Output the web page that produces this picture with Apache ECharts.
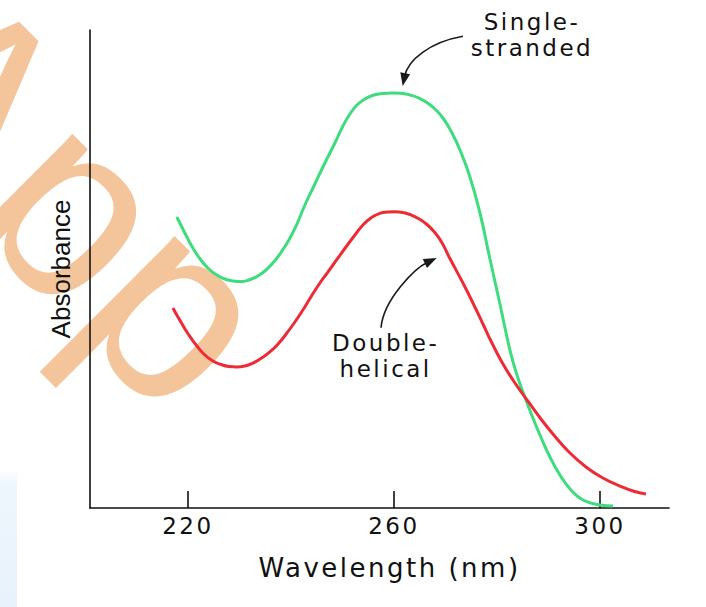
<!DOCTYPE html>
<html><head><meta charset="utf-8">
<script src="https://cdn.jsdelivr.net/npm/echarts@6/dist/echarts.min.js"></script>
<style>
html,body{margin:0;padding:0;background:#fff}
#chart{width:706px;height:607px}
#chart text{letter-spacing:2.5px}
#chart text[style*="Liberation"]{letter-spacing:0}
</style>
</head><body><div id="chart"></div>
<script>
// ---- data ----
const wavelengthTicks = [220, 260, 300];
const singleStranded = [[217.86,60.88],[219.42,57.53],[220.97,54.39],[222.52,51.88],[224.08,50.00],[225.63,48.74],[227.18,47.91],[228.74,47.49],[230.29,47.38],[231.84,47.70],[233.40,48.43],[234.95,49.58],[236.50,51.26],[238.06,53.45],[239.61,56.07],[241.17,59.41],[242.72,63.39],[244.66,67.78],[246.60,72.18],[248.54,76.36],[250.10,79.92],[251.46,82.43],[252.82,84.31],[254.37,85.56],[256.12,86.40],[257.86,86.72],[259.61,86.82],[261.36,86.76],[263.11,86.40],[264.85,85.77],[266.41,84.83],[267.96,83.47],[269.51,81.59],[271.07,78.87],[272.82,74.90],[274.76,69.25],[276.70,61.72],[278.64,52.09],[280.58,42.68],[282.52,33.05],[284.08,27.20],[285.63,22.59],[286.99,18.83],[288.35,15.27],[290.29,10.67],[292.23,6.90],[294.37,3.77],[296.70,1.67],[300.00,0.63],[302.52,0.42]];
const doubleHelical = [[217.09,41.84],[218.64,38.91],[220.19,36.19],[221.75,33.89],[223.30,32.01],[224.85,30.75],[226.41,30.02],[227.96,29.60],[229.51,29.50],[231.07,29.71],[232.62,30.33],[234.17,31.28],[235.92,32.64],[237.67,34.52],[239.22,36.61],[240.78,38.91],[242.33,41.42],[243.88,44.14],[245.63,47.07],[247.18,49.37],[248.93,51.99],[250.68,54.60],[252.43,57.11],[253.98,59.21],[255.53,60.67],[257.28,61.65],[258.83,61.90],[260.19,61.97],[261.75,61.82],[263.30,61.34],[264.85,60.50],[266.41,59.31],[267.77,57.85],[269.13,55.86],[270.87,52.20],[273.40,47.07],[275.34,42.89],[277.28,38.49],[279.22,34.10],[281.17,30.13],[283.11,26.78],[284.85,24.06],[286.41,21.76],[288.54,18.62],[290.87,15.48],[293.98,11.72],[297.28,8.58],[300.58,6.28],[303.88,4.60],[306.41,3.56],[308.93,2.93]];
const singleLabel = 'Single-\nstranded';
const doubleLabel = 'Double-\nhelical';
const singleLabelAt = [286.8, 99.0];
const doubleLabelAt = [258.4, 31.8];
// arrow paths (data coords): start, control1, control2, tip
const singleArrow = [[273.4,98.7],[267.0,97.5],[262.7,93.7],[261.7,88.3]];
const doubleArrow = [[257.5,37.7],[257.9,43.5],[264.1,50.2],[268.3,52.3]];
const xName = 'Wavelength (nm)';
const yName = 'Absorbance';
const watermarkText = 'App';

const textFont = 'DejaVu Sans';
const chart = echarts.init(document.getElementById('chart'), null, {renderer:'svg'});
chart.setOption({
  animation:false,
  backgroundColor:'#fff',
  grid:{left:90,right:37,top:30,bottom:99,containLabel:false},
  xAxis:{type:'value',min:201,max:313.4,
    name:xName,nameLocation:'middle',nameGap:47,
    nameTextStyle:{fontFamily:textFont,fontSize:26,color:'#111',padding:[0,0,0,20]},
    axisLine:{show:true,lineStyle:{color:'#111',width:1.6}},
    axisTick:{show:true,inside:true,length:17,customValues:wavelengthTicks,lineStyle:{color:'#111',width:1.6}},
    axisLabel:{show:true,margin:6,customValues:wavelengthTicks,fontFamily:textFont,fontSize:23,color:'#111'},
    splitLine:{show:false}},
  yAxis:{type:'value',min:0,max:100,
    name:yName,nameLocation:'middle',nameRotate:90,nameGap:16,
    nameTextStyle:{fontFamily:'Liberation Sans',fontSize:26,color:'#111'},
    axisLine:{show:true,lineStyle:{color:'#111',width:1.6}},
    axisTick:{show:false},axisLabel:{show:false},splitLine:{show:false}},
  series:[
    {type:'line',name:'Single-stranded',data:singleStranded,smooth:0.5,showSymbol:false,z:3,
      lineStyle:{color:'#3ddc7c',width:3}},
    {type:'line',name:'Double-helical',data:doubleHelical,smooth:0.5,showSymbol:false,z:4,
      lineStyle:{color:'#ee2b35',width:3}}
  ]
});

function px(p){ return chart.convertToPixel({gridIndex:0}, p); }
function arrowGraphics(pts){
  const [a,b,c,d] = pts.map(px);
  const dx = d[0]-c[0], dy = d[1]-c[1];
  const L = Math.hypot(dx,dy) || 1;
  const ux = dx/L, uy = dy/L;
  const len = 13, hw = 5;
  const bx = d[0]-ux*len, by = d[1]-uy*len;
  return [
    {type:'bezierCurve',shape:{x1:a[0],y1:a[1],cpx1:b[0],cpy1:b[1],cpx2:c[0],cpy2:c[1],x2:bx+ux*3,y2:by+uy*3},
      style:{stroke:'#1a1a1a',lineWidth:1.6,fill:null},z:10},
    {type:'polygon',shape:{points:[[d[0],d[1]],[bx-uy*hw,by+ux*hw],[bx+uy*hw,by-ux*hw]]},
      style:{fill:'#1a1a1a'},z:10}
  ];
}
const sl = px(singleLabelAt), dl = px(doubleLabelAt);
const wmSize = 260;
chart.setOption({graphic:[
  {type:'rect',shape:{x:0,y:470,width:17,height:137},silent:true,z:-20,
    style:{fill:{type:'linear',x:0,y:0,x2:0,y2:1,colorStops:[{offset:0,color:'rgba(228,240,252,0)'},{offset:0.12,color:'#eef6fd'},{offset:1,color:'#e8f2fc'}]}}},
  {type:'text',x:-159.4,y:96.4,rotation:-Math.PI/4,silent:true,z:-10,
    style:{text:watermarkText,x:0,y:-0.3465*wmSize,font:wmSize+'px "Liberation Sans"',fill:'#f4c59b',align:'left',verticalAlign:'middle'}},
  {type:'text',x:sl[0],y:sl[1],z:10,style:{text:singleLabel,fontFamily:textFont,fontSize:23,lineHeight:26,fill:'#111',align:'center',verticalAlign:'middle'}},
  {type:'text',x:dl[0],y:dl[1],z:10,style:{text:doubleLabel,fontFamily:textFont,fontSize:23,lineHeight:26,fill:'#111',align:'center',verticalAlign:'middle'}},
  ...arrowGraphics(singleArrow),
  ...arrowGraphics(doubleArrow)
]});
</script>
</body></html>
